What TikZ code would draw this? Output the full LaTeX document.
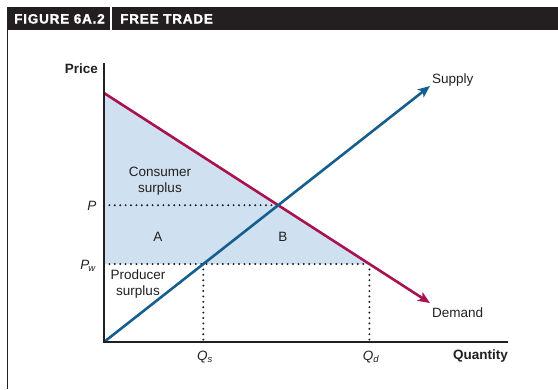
\documentclass[tikz,border=0pt]{standalone}
\usepackage{fontspec}
\setmainfont{Liberation Sans}
\newfontfamily\headfont[LetterSpace=6,FakeBold=1.5]{Liberation Sans}
\usetikzlibrary{arrows.meta}
\definecolor{ink}{HTML}{231F20}
\definecolor{demandred}{HTML}{A8124E}
\definecolor{supplyblue}{HTML}{155E8E}
\definecolor{surplusblue}{HTML}{CFE1F1}
\tikzset{
  lbl/.style={text=ink, font=\fontsize{13.5}{16}\selectfont, inner sep=0pt},
  axislbl/.style={lbl, font=\fontsize{13.5}{16}\selectfont\bfseries},
  headlbl/.style={text=white, font=\fontsize{13.5}{15}\headfont\bfseries, inner sep=0pt, anchor=base west},
  axisline/.style={draw=ink, line width=2.2pt},
  curve/.style={line width=2.6pt, -{Stealth[length=12pt,width=10pt,inset=3pt]}},
  guide/.style={draw=ink, line width=2.2pt, line cap=round, dash pattern=on 0pt off 5.4pt},
}
\begin{document}
\begin{tikzpicture}[x=1pt,y=-1pt]
\useasboundingbox (0,0) rectangle (558,389);

% header bar and frame
\fill[ink] (7,7) rectangle (558,30);
\draw[white, line width=1.6pt] (111,7) -- (111,30);
\draw[ink, line width=1.4pt] (7.5,30) -- (7.5,389);
\node[headlbl] (fig) at (14,23.5) {FIGURE 6A.2};
\node[headlbl] (title) at (120,23.5) {FREE TRADE};

% key points
\coordinate (O) at (104,342);
\coordinate (ytop) at (104,63);
\coordinate (xend) at (508,342);
\coordinate (dstart) at (104,93);
\coordinate (dend) at (430,303);
\coordinate (send) at (430,86);
\coordinate (E) at (278.2,205.2);
\coordinate (Paxis) at (104,205.2);
\coordinate (Pwaxis) at (104,264);
\coordinate (Sw) at (203.3,264);
\coordinate (Dw) at (369.4,264);
\coordinate (Qsfoot) at (203.3,342);
\coordinate (Qdfoot) at (369.4,342);

% consumer surplus under free trade
\fill[surplusblue] (dstart) -- (Dw) -- (Pwaxis) -- cycle;

% guide lines
\draw[guide] (Paxis) -- (E);
\draw[guide] (Pwaxis) -- (Dw);
\draw[guide] (Sw) -- (Qsfoot);
\draw[guide] (Dw) -- (Qdfoot);

% curves
\draw[curve, demandred] (dstart) -- (dend);
\draw[curve, supplyblue] (O) -- (send);

% axes
\draw[axisline] (ytop) -- (O) -- (xend);

% labels
\node[axislbl, anchor=east] (price) at (98,69) {Price};
\node[axislbl, anchor=east] (qty) at (508,356) {Quantity};
\node[lbl] (P) at (92,206) {\itshape P};
\node[lbl] (Pw) at (88,266) {\itshape P\textsubscript{\kern-1pt w}};
\node[lbl] (Qs) at (205,357) {\itshape Q\textsubscript{s}};
\node[lbl] (Qd) at (371,357) {\itshape Q\textsubscript{d}};
\node[lbl, align=center] (cs) at (160,181) {Consumer\\surplus};
\node[lbl, align=center] (ps) at (138,284) {Producer\\surplus};
\node[lbl] (A) at (158,237) {A};
\node[lbl] (B) at (283,237) {B};
\node[lbl, anchor=west] (sup) at (432,80) {Supply};
\node[lbl, anchor=west] (dem) at (432,313) {Demand};
\end{tikzpicture}
\end{document}
